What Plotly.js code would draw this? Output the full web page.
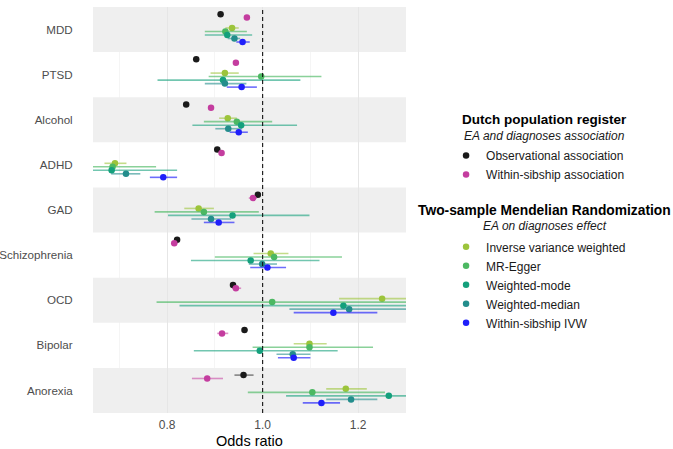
<!DOCTYPE html>
<html>
<head>
<meta charset="utf-8">
<script src="https://cdn.plot.ly/plotly-3.0.1.min.js"></script>
<style>html,body{margin:0;padding:0;background:#fff;}#chart{width:673px;height:449px;}</style>
</head>
<body>
<div id="chart"></div>
<script>
// Categories (top to bottom)
const categories = ["MDD","PTSD","Alcohol","ADHD","GAD","Schizophrenia","OCD","Bipolar","Anorexia"];

// Dutch population register
const obsOR  = [0.912,0.861,0.840,0.905,0.990,0.821,0.938,0.962,0.960];
const obsLo  = [0.909,0.858,0.837,0.902,0.987,0.818,0.935,0.957,0.941];
const obsHi  = [0.915,0.864,0.843,0.908,0.993,0.824,0.941,0.969,0.981];

const sibOR  = [0.967,0.944,0.892,0.914,0.980,0.815,0.944,0.915,0.884];
const sibLo  = [0.964,0.941,0.889,0.911,0.971,0.809,0.936,0.905,0.852];
const sibHi  = [0.970,0.947,0.895,0.917,0.988,0.822,0.955,0.928,0.917];

// Two-sample MR
const ivwOR  = [0.936,0.921,0.927,0.691,0.866,1.017,1.250,1.098,1.174];
const ivwLo  = [0.922,0.891,0.909,0.669,0.836,0.981,1.160,1.065,1.133];
const ivwHi  = [0.950,0.950,0.946,0.715,0.898,1.054,1.350,1.134,1.218];

const eggOR  = [0.922,0.997,0.946,0.686,0.877,1.024,1.020,1.098,1.104];
const eggLo  = [0.879,0.887,0.877,0.620,0.774,0.900,0.778,0.979,0.969];
const eggHi  = [0.967,1.123,1.020,0.777,0.992,1.166,1.340,1.231,1.256];

const modeOR = [0.926,0.917,0.955,0.684,0.937,0.975,1.169,0.994,1.264];
const modeLo = [0.879,0.780,0.853,0.560,0.802,0.850,0.826,0.856,1.049];
const modeHi = [0.978,1.079,1.072,0.821,1.098,1.119,1.650,1.157,1.490];

const medOR  = [0.941,0.921,0.928,0.714,0.892,0.999,1.181,1.063,1.185];
const medLo  = [0.927,0.879,0.901,0.683,0.851,0.971,1.056,1.029,1.133];
const medHi  = [0.953,0.966,0.957,0.744,0.934,1.030,1.320,1.100,1.240];

const wsOR   = [0.958,0.956,0.950,0.792,0.908,1.010,1.148,1.065,1.123];
const wsLo   = [0.945,0.925,0.931,0.764,0.877,0.974,1.065,1.032,1.084];
const wsHi   = [0.973,0.988,0.969,0.821,0.941,1.049,1.240,1.100,1.162];

const xTicks = [0.8, 1.0, 1.2];
const xTickText = ["0.8","1.0","1.2"];
const xMinor = [0.7, 0.9, 1.1, 1.3];

const series = [
  {name:"Observational association", or:obsOR, lo:obsLo, hi:obsHi, color:"#1a1a1a", err:"rgba(26,26,26,0.5)", dodge:-0.34, legend:"legend"},
  {name:"Within-sibship association", or:sibOR, lo:sibLo, hi:sibHi, color:"#c43d9f", err:"rgba(196,61,159,0.55)", dodge:-0.265, legend:"legend"},
  {name:"Inverse variance weighted", or:ivwOR, lo:ivwLo, hi:ivwHi, color:"#9cc43b", err:"rgba(156,196,59,0.6)", dodge:-0.035, legend:"legend2"},
  {name:"MR-Egger", or:eggOR, lo:eggLo, hi:eggHi, color:"#4cb862", err:"rgba(76,184,98,0.65)", dodge:0.042, legend:"legend2"},
  {name:"Weighted-mode", or:modeOR, lo:modeLo, hi:modeHi, color:"#14a07c", err:"rgba(20,160,124,0.6)", dodge:0.12, legend:"legend2"},
  {name:"Weighted-median", or:medOR, lo:medLo, hi:medHi, color:"#238d8c", err:"rgba(35,141,140,0.6)", dodge:0.198, legend:"legend2"},
  {name:"Within-sibship IVW", or:wsOR, lo:wsLo, hi:wsHi, color:"#1f1ffa", err:"rgba(31,31,250,0.65)", dodge:0.276, legend:"legend2"}
];

const traces = series.map(s => ({
  type:"scatter", mode:"markers", name:s.name, legend:s.legend,
  x:s.or,
  y:categories.map((c,i)=>i + s.dodge),
  marker:{color:s.color, size:6.5},
  error_x:{type:"data", symmetric:false,
    array:s.or.map((v,i)=>s.hi[i]-v),
    arrayminus:s.or.map((v,i)=>v-s.lo[i]),
    color:s.err, thickness:1.6, width:0},
  hoverinfo:"x+name"
}));

const shapes = [];
categories.forEach((c,i)=>{
  if(i%2===0){
    shapes.push({type:"rect", layer:"below", xref:"paper", x0:0, x1:1, yref:"y", y0:i-0.5, y1:i+0.5,
      fillcolor:"#efefef", line:{width:0}});
  }
});
shapes.push({type:"line", layer:"above", xref:"x", x0:1, x1:1, yref:"paper", y0:0, y1:1,
  line:{color:"#111", width:1.1, dash:"4px,3px"}});

const F = "Liberation Sans, Arial, sans-serif";
const layout = {
  width:673, height:449,
  margin:{l:93, r:267, t:7, b:36},
  paper_bgcolor:"#fff", plot_bgcolor:"#fff",
  font:{family:F, size:12, color:"#4d4d4d"},
  showlegend:true,
  xaxis:{range:[0.645,1.30], tickvals:xTicks, ticktext:xTickText, showgrid:true, gridcolor:"#e6e6e6", gridwidth:1,
    minor:{tickvals:xMinor, showgrid:true, gridcolor:"#eeeeee", gridwidth:0.6, ticks:""},
    zeroline:false, ticks:"outside", ticklen:1, tickcolor:"rgba(0,0,0,0)", showline:false,
    tickfont:{size:12, color:"#4d4d4d"}, automargin:false},
  yaxis:{range:[8.5,-0.5], tickvals:categories.map((c,i)=>i), ticktext:categories, showgrid:false, zeroline:false,
    ticks:"outside", ticklen:17, tickcolor:"rgba(0,0,0,0)", tickfont:{size:11.6, color:"#4d4d4d"}, automargin:false},
  shapes:shapes,
  legend:{x:1.128, xanchor:"left", y:0.670, yanchor:"top", font:{size:12, color:"#1a1a1a"}, bgcolor:"rgba(0,0,0,0)", itemwidth:30, tracegroupgap:0},
  legend2:{x:1.128, xanchor:"left", y:0.445, yanchor:"top", font:{size:12, color:"#1a1a1a"}, bgcolor:"rgba(0,0,0,0)", itemwidth:30, tracegroupgap:0},
  annotations:[
    {xref:"paper", yref:"paper", x:0.5, y:-0.0685, xanchor:"center", yanchor:"middle", showarrow:false,
     text:"Odds ratio", font:{size:14.5, color:"#000"}, borderpad:0},
    {xref:"paper", yref:"paper", x:1.444, y:0.7217, xanchor:"center", yanchor:"middle", showarrow:false,
     text:"<b>Dutch population register</b>", font:{size:13.5, color:"#000"}},
    {xref:"paper", yref:"paper", x:1.444, y:0.683, xanchor:"center", yanchor:"middle", showarrow:false,
     text:"<i>EA and diagnoses association</i>", font:{size:12, color:"#1a1a1a"}},
    {xref:"paper", yref:"paper", x:1.444, y:0.5, xanchor:"center", yanchor:"middle", showarrow:false,
     text:"<b>Two-sample Mendelian Randomization</b>", font:{size:13.8, color:"#000"}},
    {xref:"paper", yref:"paper", x:1.444, y:0.4606, xanchor:"center", yanchor:"middle", showarrow:false,
     text:"<i>EA on diagnoses effect</i>", font:{size:12, color:"#1a1a1a"}}
  ]
};

Plotly.newPlot("chart", traces, layout, {displayModeBar:false, staticPlot:true});
</script>
</body>
</html>
